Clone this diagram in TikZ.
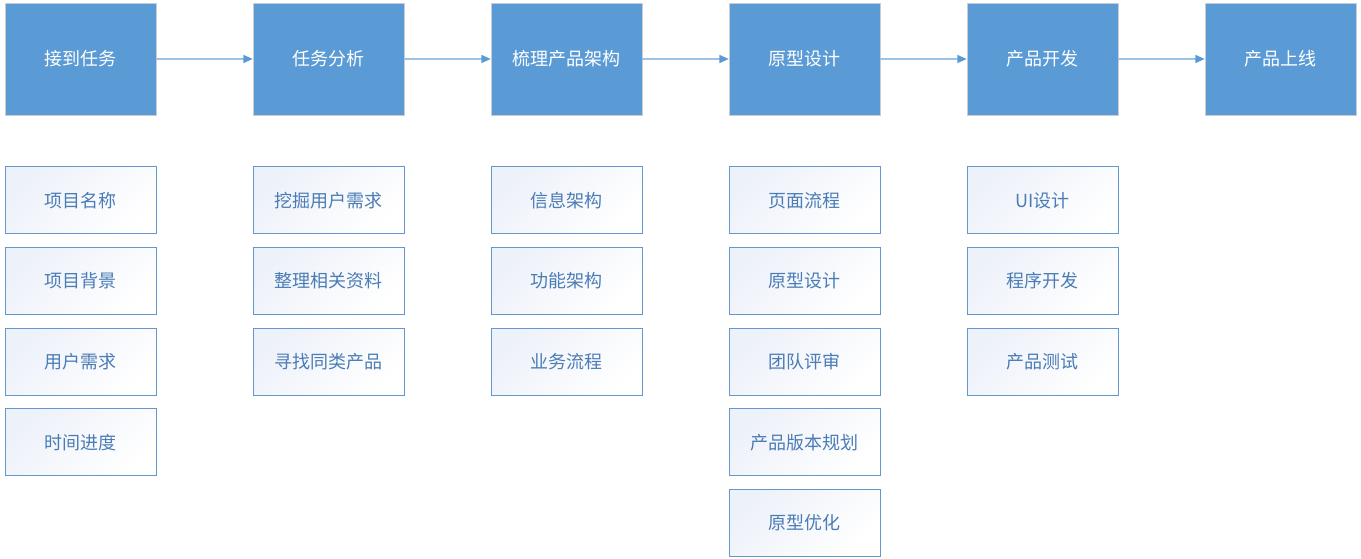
\documentclass[tikz,border=0pt]{standalone}
\usepackage{fontspec}
\newfontfamily\cjk{Noto Sans CJK SC}
\usetikzlibrary{arrows.meta, positioning}

\definecolor{stageblue}{HTML}{5B9BD5}
\definecolor{stageedge}{HTML}{C9CDD2}
\definecolor{linkblue}{HTML}{9DC3E6}
\definecolor{taskedge}{HTML}{6397CE}
\definecolor{tasktext}{HTML}{4A7CB5}
\definecolor{taskfill}{HTML}{EDF1F9}

\begin{document}
\begin{tikzpicture}[
        node distance = 178.5pt,
        on grid,
        >= {Triangle[length = 7pt, width = 6pt, color = stageblue]},
        every node/.style = {font = \cjk\fontsize{13.5}{16}\selectfont},
        stage/.style = {draw = stageedge, fill = stageblue, text = white,
                        minimum width = 113.25pt, minimum height = 84pt, inner sep = 0pt},
        task/.style = {draw = taskedge, text = tasktext, line width = 0.75pt,
                       top color = taskfill, bottom color = white, shading angle = 45,
                       minimum width = 113.25pt, minimum height = 50.25pt, inner sep = 0pt}
    ]

      \useasboundingbox (0pt, 0pt) rectangle (1020.75pt, -418.5pt);

      % stages
      \node[stage] (recv) at (60.375pt, -44.25pt) {接到任务};
      \node[stage] (analyze) [right = 186pt of recv] {任务分析};
      \node[stage] (arch) [right = of analyze] {梳理产品架构};
      \node[stage] (proto) [right = of arch] {原型设计};
      \node[stage] (dev) [right = of proto] {产品开发};
      \node[stage] (launch) [right = of dev] {产品上线};

      \path[->, draw = linkblue, line width = 1.1pt]
            (recv) edge (analyze)
            (analyze) edge (arch)
            (arch) edge (proto)
            (proto) edge (dev)
            (dev) edge (launch);

      % tasks
      \begin{scope}[node distance = 60.5pt]
      \node[task] (recv1) [below = 106.1pt of recv] {项目名称};
      \node[task] (recv2) [below = of recv1] {项目背景};
      \node[task] (recv3) [below = of recv2] {用户需求};
      \node[task] (recv4) [below = of recv3] {时间进度};

      \node[task] (analyze1) [below = 106.1pt of analyze] {挖掘用户需求};
      \node[task] (analyze2) [below = of analyze1] {整理相关资料};
      \node[task] (analyze3) [below = of analyze2] {寻找同类产品};

      \node[task] (arch1) [below = 106.1pt of arch] {信息架构};
      \node[task] (arch2) [below = of arch1] {功能架构};
      \node[task] (arch3) [below = of arch2] {业务流程};

      \node[task] (proto1) [below = 106.1pt of proto] {页面流程};
      \node[task] (proto2) [below = of proto1] {原型设计};
      \node[task] (proto3) [below = of proto2] {团队评审};
      \node[task] (proto4) [below = of proto3] {产品版本规划};
      \node[task] (proto5) [below = of proto4] {原型优化};

      \node[task] (dev1) [below = 106.1pt of dev] {UI设计};
      \node[task] (dev2) [below = of dev1] {程序开发};
      \node[task] (dev3) [below = of dev2] {产品测试};
      \end{scope}

\end{tikzpicture}
\end{document}
